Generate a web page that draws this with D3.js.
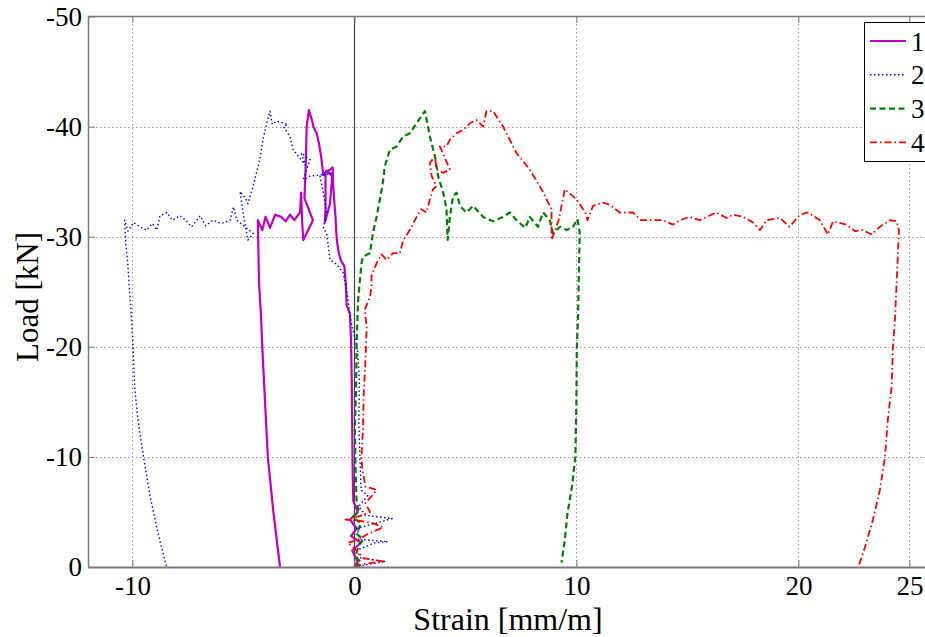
<!DOCTYPE html>
<html>
<head>
<meta charset="utf-8">
<script src="https://cdn.jsdelivr.net/npm/d3@7"></script>
<style>
  body { margin: 0; background: #fff; }
  svg { display: block; font-family: "Liberation Serif", "Times New Roman", serif; }
</style>
</head>
<body>
<div id="chart"></div>
<script>
// tick values and legend names
var xTicks = [-10, 0, 10, 20, 25];
var yTicks = [0, -10, -20, -30, -40, -50];
var legendLabels = ["1", "2", "3", "4"];

// [strain (mm/m), load (kN)]
var series1 = [[0,0],[0.15,-0.5],[-0.1,-1.5],[0.3,-2.2],[-0.15,-2.8],[0.1,-3.5],[-0.2,-4.3],[0.15,-5],
  [-0.05,-6],[-0.08,-9],[-0.1,-13],[-0.12,-17],[-0.15,-20.5],[-0.2,-23],[-0.35,-23.8],[-0.38,-25.5],
  [-0.45,-27.3],[-0.6,-27.8],[-0.7,-28.5],[-0.78,-29.5],[-0.82,-30.5],[-0.85,-31.8],[-0.9,-33],
  [-0.95,-34.5],[-0.98,-36.3],[-1.1,-36.1],[-1.3,-35.8],[-1.3,-32.5],[-1.33,-31.3],[-1.1,-33],
  [-1.0,-35.5],[-1.25,-36],[-1.4,-35.6],[-1.5,-37.3],[-1.6,-38.5],[-1.7,-39.4],[-1.85,-40],
  [-1.9,-40.5],[-2.05,-41.5],[-2.15,-40],[-2.2,-36],[-2.25,-33.5],[-1.87,-31.5],[-2.3,-29.7],
  [-2.35,-31.2],[-2.4,-34],[-2.45,-32.2],[-2.7,-31.5],[-2.9,-32],[-3.1,-31.4],[-3.3,-31.8],
  [-3.57,-32.0],[-3.8,-30.8],[-4.0,-31.8],[-4.15,-30.6],[-4.35,-31.5],[-4.3,-26],[-4.2,-22.5],
  [-4.15,-20],[-4.0,-14],[-3.9,-10],[-3.65,-5],[-3.35,0]];

var series2 = [[0,0],[0.8,-0.3],[1.4,-0.5],[0.3,-0.8],[0.1,-1.5],[0.9,-2.2],[1.5,-2.3],[0.3,-2.5],
  [0.1,-3.5],[1.0,-4],[1.7,-4.4],[0.5,-4.7],[0.2,-5.5],[0.6,-6.5],[0.3,-7],[0.25,-10],[0.2,-13],
  [0.22,-17],[0.15,-19.5],[0,-21],[-0.2,-22.7],[-0.3,-24.5],[-0.5,-26.7],[-0.8,-27.5],[-1.1,-27.9],
  [-1.25,-30.3],[-1.4,-30.8],[-1.25,-32.2],[-1.4,-34],[-1.55,-35.5],[-1.0,-35.8],[-1.6,-35.6],
  [-2.0,-35.5],[-2.3,-35.2],[-2.0,-37],[-2.4,-37.6],[-2.2,-36.5],[-2.76,-37.9],[-2.9,-39.1],
  [-3.2,-40],[-3.0,-40.2],[-3.5,-40.5],[-3.7,-40.2],[-3.8,-41.4],[-3.95,-40.3],[-4.1,-39],
  [-4.26,-37],[-4.45,-35.5],[-4.57,-34.5],[-4.8,-33],[-4.9,-33.5],[-5.15,-34.1],[-5.0,-32],
  [-4.8,-29.7],[-4.56,-30.3],[-5.3,-31.5],[-5.45,-32.7],[-5.6,-31.5],[-6.0,-31.2],[-6.37,-31.5],
  [-6.7,-31.0],[-6.95,-31.9],[-7.33,-30.9],[-7.6,-31.5],[-7.86,-31.9],[-8.2,-31.5],[-8.45,-32.2],
  [-8.76,-31.9],[-8.9,-30.6],[-9.1,-31.2],[-9.36,-30.6],[-9.66,-30.9],[-9.95,-31.3],[-10.2,-30.5],
  [-10.35,-31.5],[-10.3,-29.5],[-10.2,-27.3],[-10.04,-22.5],[-9.97,-20],[-9.9,-16.4],[-9.75,-13.4],
  [-9.5,-10],[-9.2,-6.4],[-8.85,-3.1],[-8.46,0]];

var series3 = [[0,0],[0.3,-0.4],[0.05,-1],[0.2,-2],[0.4,-2.5],[0.1,-3],[0.3,-4],[-0.1,-4.5],[0.2,-5],
  [0.1,-6],[0.05,-9],[0.02,-12.7],[0.07,-15.8],[0.1,-20.4],[0.16,-24],[0.25,-26.1],[0.32,-27.6],
  [0.39,-28.2],[0.7,-28.5],[0.83,-30.3],[1.0,-31.8],[1.15,-33.4],[1.28,-34.9],[1.37,-36.4],
  [1.6,-37.9],[1.9,-38.2],[2.2,-39.1],[2.5,-39.4],[2.8,-40.3],[3.1,-41.2],[3.18,-41.4],[3.4,-39.1],
  [3.63,-37.3],[3.77,-35.5],[4.0,-34],[4.15,-32.5],[4.2,-29.7],[4.3,-31.8],[4.45,-33.7],[4.6,-34],
  [4.75,-32.8],[5.05,-32.2],[5.35,-32.8],[5.8,-31.8],[6.25,-31.4],[6.7,-31.8],[7.0,-32.2],
  [7.3,-31.5],[7.7,-30.8],[7.9,-31.8],[8.27,-30.9],[8.5,-32.2],[8.8,-31.5],[8.95,-30.3],[9.26,-30.9],
  [9.56,-30.6],[9.85,-30.9],[10.05,-31.6],[10.15,-30.4],[10.07,-22.5],[10.02,-20],[10.0,-14.9],
  [9.95,-10],[9.8,-7.3],[9.6,-4.9],[9.48,-2.5],[9.33,-0.4]];

var series4 = [[0,0],[0.5,-0.3],[1.3,-0.5],[0.4,-0.8],[0.1,-1.5],[-0.3,-2.2],[0.2,-2.5],[0.6,-3],
  [1.3,-3.6],[0.8,-4],[0.2,-4.2],[-0.4,-4.3],[0.2,-4.6],[0.7,-5],[0.5,-5.8],[0.8,-6.5],[1.0,-7],
  [0.5,-7.3],[0.35,-9],[0.32,-10],[0.39,-12.7],[0.42,-15.8],[0.5,-18.8],[0.55,-21.8],[0.47,-23.4],
  [0.7,-24.5],[0.77,-25.5],[0.77,-26.4],[1.0,-27.6],[1.22,-28.4],[1.45,-27.9],[1.74,-28.5],
  [2.05,-28.5],[2.2,-29.7],[2.4,-30.3],[2.58,-30.9],[2.8,-31.8],[3.0,-32.5],[3.25,-32.2],
  [3.4,-33.4],[3.54,-34.3],[3.7,-34.6],[3.48,-35.5],[3.4,-36.7],[3.63,-37.3],[3.7,-36.1],
  [4.0,-35.8],[4.3,-36.1],[3.85,-38.2],[4.15,-38.2],[4.3,-38.8],[4.6,-39.4],[4.9,-39.7],
  [5.2,-40.3],[5.5,-40.6],[5.8,-40],[5.95,-41.4],[6.25,-41.4],[6.7,-40],[7.3,-37.6],[7.9,-36.1],
  [8.43,-34.3],[8.88,-32.5],[8.88,-29.7],[9.2,-31.5],[9.48,-34.3],[10.0,-33.4],[10.4,-32.2],
  [10.5,-31.5],[10.75,-32.8],[11.2,-33.1],[11.5,-32.9],[11.95,-32.2],[12.55,-32.2],[12.9,-31.5],
  [13.45,-31.5],[13.9,-31.5],[14.35,-31.1],[14.66,-31.5],[15.1,-31.8],[15.55,-31.5],[16.3,-32.2],
  [16.77,-31.7],[17.05,-32],[17.5,-31.8],[17.95,-31.3],[18.27,-30.6],[18.57,-31.5],[19.17,-31.7],
  [19.6,-30.9],[20.07,-32],[20.43,-32.2],[20.97,-31.5],[21.33,-30.2],[21.56,-31.4],[22.17,-31.1],
  [22.55,-30.5],[22.9,-30.6],[23.3,-30.2],[23.67,-30.9],[24.12,-31.5],[24.42,-31.4],[24.53,-30.6],
  [24.35,-22.5],[24.26,-20],[24.2,-16.4],[24.03,-13.4],[23.9,-10],[23.67,-7],[23.36,-4.3],
  [23.0,-1.8],[22.7,0]];

var seriesList = [series1, series2, series3, series4];
var colors = ["#bf00bf", "#0000ff", "#008000", "#ff0000"];
var dashes = [null, "1.5,2.5", "6,3.5", "7,3,1.5,3"];
var widths = [2.2, 1.4, 2.2, 1.8];

var W = 925, H = 637;
var plotLeft = 88, plotTop = 16, plotBottom = 567;

var x = d3.scaleLinear().domain([-12, 26]).range([plotLeft, plotLeft + 38 * 22.2]);
var y = d3.scaleLinear().domain([0, -50]).range([plotBottom, plotTop + 0.5]);

var svg = d3.select("#chart").append("svg")
    .attr("width", W)
    .attr("height", H);

svg.append("clipPath").attr("id", "plot")
  .append("rect")
    .attr("x", plotLeft).attr("y", plotTop)
    .attr("width", x.range()[1] - plotLeft).attr("height", plotBottom - plotTop);

// dotted grid
var grid = svg.append("g").attr("stroke", "#9a9a9a").attr("stroke-width", 1)
    .attr("stroke-dasharray", "1.5,2.5");
grid.selectAll("line.v").data(xTicks.filter(function(d) { return d !== 0; }))
  .enter().append("line")
    .attr("x1", function(d) { return Math.round(x(d)) + 0.5; })
    .attr("x2", function(d) { return Math.round(x(d)) + 0.5; })
    .attr("y1", plotTop).attr("y2", plotBottom);
grid.selectAll("line.h").data(yTicks.filter(function(d) { return d !== 0 && d !== -50; }))
  .enter().append("line")
    .attr("x1", plotLeft).attr("x2", W)
    .attr("y1", function(d) { return Math.round(y(d)) + 0.5; })
    .attr("y2", function(d) { return Math.round(y(d)) + 0.5; });

// zero strain line
svg.append("line")
    .attr("x1", Math.round(x(0)) + 0.5).attr("x2", Math.round(x(0)) + 0.5)
    .attr("y1", plotTop).attr("y2", plotBottom)
    .attr("stroke", "#444").attr("stroke-width", 1.2);

// curves
var line = d3.line()
    .x(function(d) { return x(d[0]); })
    .y(function(d) { return y(d[1]); });

var curves = svg.append("g").attr("clip-path", "url(#plot)");
seriesList.forEach(function(s, i) {
  curves.append("path")
      .attr("d", line(s))
      .attr("fill", "none")
      .attr("stroke", colors[i])
      .attr("stroke-width", widths[i])
      .attr("stroke-dasharray", dashes[i])
      .attr("stroke-linejoin", "round");
});

// axes box
var axisColor = "#7a7a7a";
svg.append("line").attr("x1", plotLeft).attr("x2", W).attr("y1", plotTop + 0.5).attr("y2", plotTop + 0.5)
    .attr("stroke", axisColor).attr("stroke-width", 1.5);
svg.append("line").attr("x1", plotLeft).attr("x2", W).attr("y1", plotBottom + 0.5).attr("y2", plotBottom + 0.5)
    .attr("stroke", axisColor).attr("stroke-width", 1.8);
svg.append("line").attr("x1", plotLeft + 0.5).attr("x2", plotLeft + 0.5).attr("y1", plotTop).attr("y2", plotBottom)
    .attr("stroke", axisColor).attr("stroke-width", 1.5);

var fmt = function(d) { return String(d); };

// bottom axis (ticks point inward)
var xAxis = svg.append("g")
    .attr("transform", "translate(0," + plotBottom + ")")
    .call(d3.axisBottom(x).tickValues(xTicks).tickSize(-7).tickPadding(9).tickFormat(fmt));
xAxis.select(".domain").remove();
xAxis.selectAll(".tick line").attr("stroke", axisColor);
xAxis.selectAll("text").attr("font-size", 27).attr("fill", "#000")
    .attr("font-family", "Liberation Serif, Times New Roman, serif");

// top tick marks
var xTop = svg.append("g")
    .attr("transform", "translate(0," + plotTop + ")")
    .call(d3.axisTop(x).tickValues(xTicks).tickSize(-7).tickFormat(""));
xTop.select(".domain").remove();
xTop.selectAll(".tick line").attr("stroke", axisColor);

// left axis
var yAxis = svg.append("g")
    .attr("transform", "translate(" + plotLeft + ",0)")
    .call(d3.axisLeft(y).tickValues(yTicks).tickSize(-7).tickPadding(6).tickFormat(fmt));
yAxis.select(".domain").remove();
yAxis.selectAll(".tick line").attr("stroke", axisColor);
yAxis.selectAll("text").attr("font-size", 27).attr("fill", "#000")
    .attr("font-family", "Liberation Serif, Times New Roman, serif");

// axis titles
svg.append("text")
    .attr("x", 508).attr("y", 630)
    .attr("text-anchor", "middle")
    .attr("font-size", 32)
    .text("Strain [mm/m]");

svg.append("text")
    .attr("transform", "translate(38,297) rotate(-90)")
    .attr("text-anchor", "middle")
    .attr("font-size", 31)
    .text("Load [kN]");

// legend
var legend = svg.append("g");
legend.append("rect")
    .attr("x", 864.5).attr("y", 22.5)
    .attr("width", 80).attr("height", 139)
    .attr("fill", "#fff").attr("stroke", "#000").attr("stroke-width", 1);
legendLabels.forEach(function(lbl, i) {
  var cy = 41 + i * 33.8;
  legend.append("line")
      .attr("x1", 870).attr("x2", 906)
      .attr("y1", cy).attr("y2", cy)
      .attr("stroke", colors[i])
      .attr("stroke-width", widths[i])
      .attr("stroke-dasharray", dashes[i]);
  legend.append("text")
      .attr("x", 911).attr("y", cy + 9.5)
      .attr("font-size", 27)
      .text(lbl);
});
</script>
</body>
</html>
